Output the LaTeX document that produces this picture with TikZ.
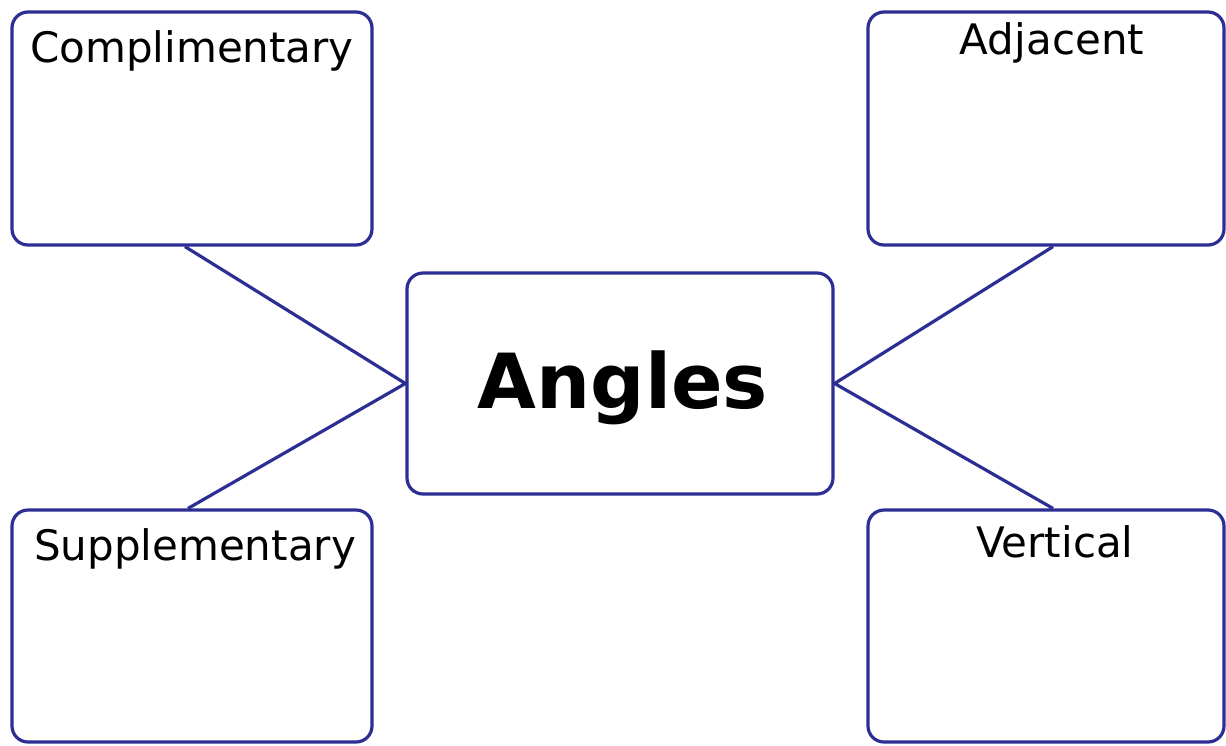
\documentclass[tikz,border=0pt]{standalone}
\usepackage{fontspec}
\setmainfont{DejaVu Sans}
\usetikzlibrary{calc}
\definecolor{navy}{RGB}{44,46,148}
\begin{document}
\begin{tikzpicture}[x=1pt,y=-1pt,
  box/.style={draw=navy,line width=3.2pt,rounded corners=16pt,fill=white,inner sep=0pt},
  lbl/.style={anchor=base,inner sep=0pt,font=\fontsize{42}{48}\selectfont},
  link/.style={draw=navy,line width=3.2pt}]
\useasboundingbox (0,0) rectangle (1226,745);
\node[box,minimum width=360pt,minimum height=233pt] (tl) at (192,128.5) {};
\node[box,minimum width=356pt,minimum height=233pt] (tr) at (1046,128.5) {};
\node[box,minimum width=360pt,minimum height=232pt] (bl) at (192,626) {};
\node[box,minimum width=356pt,minimum height=232pt] (br) at (1046,626) {};
\node[box,minimum width=426pt,minimum height=221pt] (c) at (620,383.5) {};
\node[lbl] (tlt) at (192,62) {Complimentary};
\node[lbl] (trt) at (1052,54) {Adjacent};
\node[lbl] (blt) at (195,560) {Supplementary};
\node[lbl] (brt) at (1055,557) {Vertical};
\node[anchor=base,inner sep=0pt,font=\fontsize{76}{88}\selectfont\bfseries] (ct) at (623,408) {Angles};
\draw[link] ($(tl.south)+(-7,0)$) -- (c.west) -- ($(bl.north)+(-4,0)$);
\draw[link] ($(tr.south)+(7,0)$) -- (c.east) -- ($(br.north)+(7,0)$);
\end{tikzpicture}
\end{document}
